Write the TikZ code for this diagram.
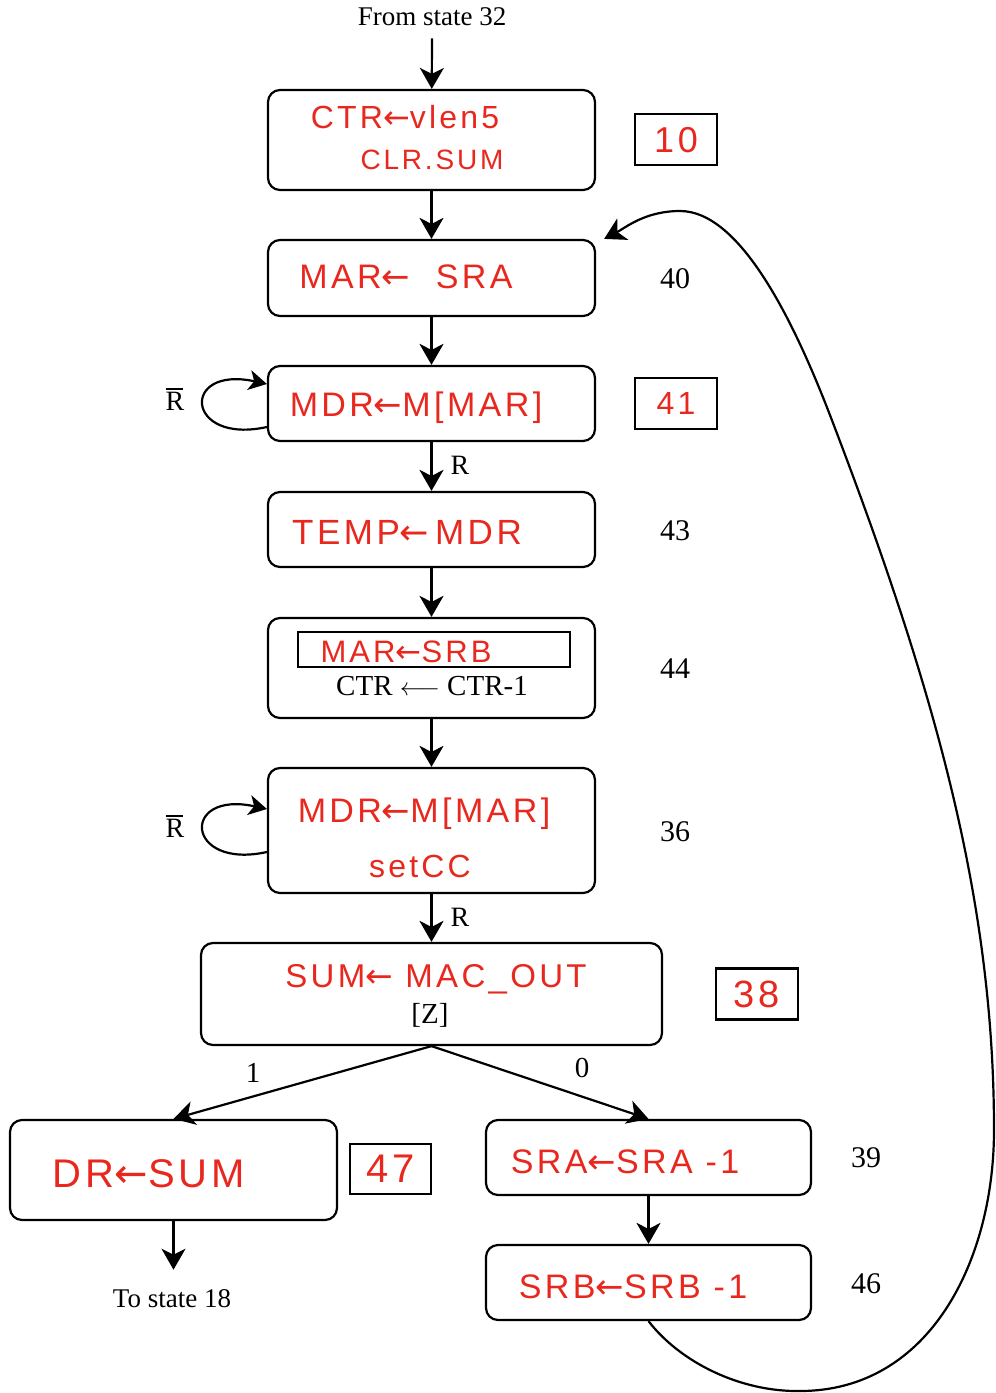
\documentclass[tikz,border=0pt]{standalone}
\usepackage{fontspec}
\setmainfont{Liberation Serif}
\newfontfamily\handfont[LetterSpace=10]{Liberation Sans}
\newfontfamily\arrfont{DejaVu Sans}
\usetikzlibrary{arrows.meta}
\definecolor{handred}{RGB}{232,40,30}
\newcommand{\hla}{{\arrfont ←}}
\newcommand{\rbar}{\makebox[0pt][l]{\rule[20.5pt]{17pt}{1.6pt}}R}
\begin{document}
\begin{tikzpicture}[x=1pt,y=-1pt,
  box/.style={draw, line width=2.2pt, rounded corners=12pt, minimum width=327pt, inner sep=0pt},
  tag/.style={draw, line width=2.2pt, minimum width=82pt, minimum height=51pt, inner sep=0pt},
  hand/.style={text=handred, font=\handfont\fontsize{#1}{#1}\selectfont, inner sep=0pt, text depth=0pt},
  hand/.default=32,
  lbl/.style={font=\fontsize{#1}{#1}\selectfont, inner sep=0pt},
  lbl/.default=27,
  arr/.style={line width=2.2pt, -{Stealth[length=21pt,width=24pt,inset=6pt]}},
  selfarr/.style={line width=2.2pt, -{Stealth[length=18pt,width=20pt,inset=5pt]}},
]
\useasboundingbox (0,0) rectangle (996,1393);

% boxes
\node[box, minimum height=100pt] (b1) at (431.5,140) {};
\node[box, minimum height=76pt] (b2) at (431.5,278) {};
\node[box, minimum height=75pt] (b3) at (431.5,403.5) {};
\node[box, minimum height=75pt] (b4) at (431.5,529.5) {};
\node[box, minimum height=100pt] (b5) at (431.5,668) {};
\node[box, minimum height=125pt] (b6) at (431.5,830.5) {};
\node[box, minimum width=461pt, minimum height=102pt] (b7) at (431.5,994) {};
\node[box, minimum height=100pt] (b8) at (173.5,1170) {};
\node[box, minimum width=325pt, minimum height=75pt] (b9) at (648.5,1157.5) {};
\node[box, minimum width=325pt, minimum height=75pt] (b10) at (648.5,1282.5) {};
\node[draw, line width=2pt, minimum width=272pt, minimum height=35pt, inner sep=0pt] (inb) at (434,649.5) {};

% red contents
\node[hand=32] (h1a) at (405,117) {CTR\hla vlen5};
\node[hand=28] (h1b) at (432,160) {CLR.SUM};
\node[hand=34] (h2) at (406,277) {MAR\hla\ \ SRA};
\node[hand=34] (h3) at (416,404) {MDR\hla M[MAR]};
\node[hand=35] (h4) at (407,532) {TEMP\hla\,MDR};
\node[hand=31] (h5) at (406,652) {MAR\hla SRB};
\node[hand=34] (h6a) at (424,810) {MDR\hla M[MAR]};
\node[hand=32] (h6b) at (420,866) {setCC};
\node[hand=33] (h7) at (436,976) {SUM\hla\ MAC\_OUT};
\node[hand=40] (h8) at (149,1174) {DR\hla SUM};
\node[hand=34] (h9) at (625,1162) {SRA\hla SRA -1};
\node[hand=34] (h10) at (633,1287) {SRB\hla SRB -1};

% black contents
\node[lbl=29] (c5) at (432,686) {CTR $\longleftarrow$ CTR-1};
\node[lbl=29] (c7) at (430,1015) {[Z]};

% state tags
\node[tag, hand=36] (t10) at (676,139.5) {10};
\node[tag, hand=32] (t41) at (676,403.5) {41};
\node[tag, hand=38] (t38) at (757,994) {38};
\node[tag, minimum width=81pt, minimum height=50pt, hand=40] (t47) at (390.5,1169) {47};
\node[lbl=30] (n40) at (675,279) {40};
\node[lbl=30] (n43) at (675,531) {43};
\node[lbl=30] (n44) at (675,669) {44};
\node[lbl=30] (n36) at (675,832) {36};
\node[lbl=30] (n39) at (866,1158) {39};
\node[lbl=30] (n46) at (866,1284) {46};

% labels
\node[lbl] (fromst) at (432,17) {From state 32};
\node[lbl] (tost) at (172,1299) {To state 18};
\node[lbl=28] (rb3) at (175,399) {\rbar};
\node[lbl=28] (rb6) at (175,826) {\rbar};
\node[lbl=28] (r3) at (460,465) {R};
\node[lbl=28] (r6) at (460,917) {R};
\node[lbl=29] (one) at (253,1073) {1};
\node[lbl=29] (zero) at (582,1068) {0};

% connectors
\draw[arr] ([yshift=-12pt]fromst.south) -- (b1);
\draw[arr] (b1) -- (b2);
\draw[arr] (b2) -- (b3);
\draw[arr] (b3) -- (b4);
\draw[arr] (b4) -- (b5);
\draw[arr] (b5) -- (b6);
\draw[arr] (b6) -- (b7);
\draw[arr] (b7.south) -- (b8.north);
\draw[arr] (b7.south) -- (b9.north);
\draw[arr] (b9) -- (b10);
\draw[arr] (b8) -- ([yshift=20pt]tost.north -| b8);
\draw[selfarr] ([yshift=-23.5pt]b3.west) .. controls (185,445) and (180,365) .. ([yshift=19.5pt]b3.west);
\draw[selfarr] ([yshift=-21.5pt]b6.west) .. controls (185,870) and (180,790) .. ([yshift=21.5pt]b6.west);
\draw[arr] (b10.south) .. controls (680,1362) and (740,1392) .. (800,1391)
  .. controls (930,1391) and (994,1260) .. (994,1130)
  .. controls (994,900) and (935,690) .. (833,423)
  .. controls (794,320) and (740,211) .. (680,211)
  .. controls (645,211) and (625,228) .. ([xshift=8pt]b2.north east);
\end{tikzpicture}
\end{document}
